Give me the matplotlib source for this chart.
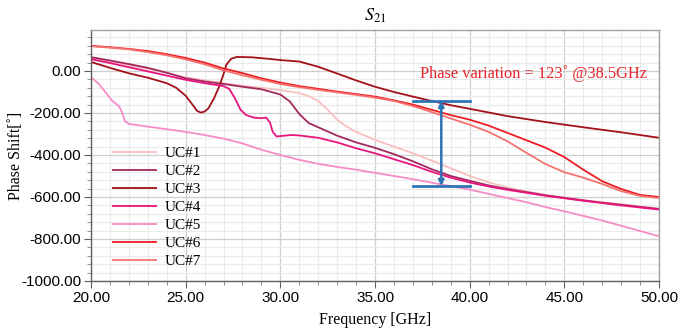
import matplotlib
matplotlib.use("Agg")
import matplotlib.pyplot as plt
from matplotlib.ticker import MultipleLocator, FormatStrFormatter

plt.rcParams['mathtext.fontset'] = 'stix'

# ---------------- data ----------------
f1 = [20, 21, 22, 23, 24, 25, 26, 27, 28, 29, 30, 31, 31.5, 32, 32.5, 33, 33.5, 34, 35, 36, 37, 38, 39, 40,
      41, 42, 43, 44, 45, 46, 47, 48, 49, 50]
uc1 = [61, 45, 28, 10, -10, -30, -45, -58, -70, -80, -91, -105, -120, -143, -185, -232, -265, -290, -328, -360, -392, -427, -463, -500,
       -530, -555, -573, -590, -603, -615, -625, -635, -645, -655]

f2 = [20, 21, 22, 23, 24, 25, 26, 27, 28, 29, 30, 30.5, 31, 31.5, 32, 33, 34, 35, 36, 37, 38, 39, 40,
      41, 42, 43, 44, 45, 46, 47, 48, 49, 50]
uc2 = [66, 50, 33, 15, -8, -35, -50, -62, -75, -87, -112, -145, -205, -248, -268, -308, -340, -366, -396, -430, -468, -500, -523,
       -545, -562, -577, -592, -604, -616, -627, -637, -647, -657]

f3 = [20, 21, 22, 23, 24, 24.5, 25, 25.4, 25.6, 25.8, 26.0, 26.2, 26.5, 26.8, 27.0, 27.15, 27.4, 27.7, 28.5, 29.5, 30,
      31, 32, 33, 34, 35, 36, 37, 38, 39, 40, 42, 44, 46, 48, 50]
uc3 = [43, 15, -11, -32, -58, -80, -118, -165, -190, -198, -193, -178, -130, -67, -15, 30, 58, 67, 65, 57, 52,
       45, 20, -12, -45, -75, -100, -122, -143, -163, -180, -215, -243, -268, -292, -318]

f4 = [20, 21, 22, 23, 24, 25, 26, 26.5, 27, 27.3, 27.6, 27.9, 28.2, 28.6, 29.0, 29.25, 29.45, 29.6, 29.8, 30.2, 30.6, 31,
      32, 33, 34, 35, 36, 37, 38, 39, 40, 41, 42, 43, 44, 45, 46, 47, 48, 49, 50]
uc4 = [56, 38, 18, -2, -22, -42, -58, -65, -72, -85, -130, -185, -210, -222, -225, -222, -245, -290, -312, -308, -305, -307,
       -318, -340, -368, -392, -420, -448, -480, -508, -531, -550, -566, -580, -594, -606, -618, -629, -640, -650, -660]

f5 = [20, 20.4, 20.8, 21.1, 21.3, 21.5, 21.65, 21.8, 22.0, 23, 24, 25, 26, 27, 28, 29, 30, 31, 32, 33, 34, 35,
      36, 37, 38, 39, 40, 41, 42, 43, 44, 45, 46, 47, 48, 49, 50]
uc5 = [-30, -60, -105, -140, -155, -170, -200, -240, -252, -265, -277, -290, -305, -322, -345, -375, -400, -423, -442, -457, -470, -485,
       -500, -515, -532, -548, -565, -585, -605, -625, -648, -668, -690, -712, -737, -762, -787]

f6 = [20, 21, 22, 23, 24, 25, 26, 27, 28, 29, 30, 31, 32, 33, 34, 35, 36, 37, 38, 39, 40,
      41, 42, 43, 44, 45, 46, 47, 48, 49, 50]
uc6 = [120, 113, 105, 95, 80, 62, 40, 12, -10, -35, -55, -72, -85, -98, -110, -122, -140, -160, -185, -210, -232,
       -260, -295, -330, -365, -410, -470, -525, -562, -590, -600]

f7 = [20, 21, 22, 23, 24, 25, 26, 27, 28, 29, 30, 31, 32, 33, 34, 35, 36, 37, 38, 39, 40,
      41, 42, 43, 44, 45, 46, 47, 48, 49, 50]
uc7 = [118, 111, 103, 90, 75, 55, 32, 3, -20, -42, -62, -77, -90, -102, -114, -127, -143, -167, -196, -226, -256,
       -290, -335, -390, -443, -482, -508, -538, -572, -595, -605]

labels = ["UC#1", "UC#2", "UC#3", "UC#4", "UC#5", "UC#6", "UC#7"]
colors = ["#F8BFBF", "#A2295E", "#A3101A", "#E8157E", "#F78BC6", "#EE1C25", "#F4736F"]

bar_f = [37.0, 40.0]
bar_top = -142
bar_bot = -548
arrow_f = 38.5

xticks = [20, 25, 30, 35, 40, 45, 50]
yticks = [0, -200, -400, -600, -800, -1000]

# ---------------- figure ----------------
fig = plt.figure(figsize=(6.93, 3.30), dpi=100)
ax = fig.add_axes([0.1313, 0.1485, 0.8197, 0.7605])

series = [(f1, uc1), (f2, uc2), (f3, uc3), (f4, uc4), (f5, uc5), (f6, uc6), (f7, uc7)]
for (fx, vy), lab, c in zip(series, labels, colors):
    ax.plot(fx, vy, color=c, lw=1.3, label=lab, solid_capstyle='butt')

ax.set_xlim(20, 50)
ax.set_ylim(-1000, 195)
ax.set_xticks(xticks)
ax.set_yticks(yticks)
ax.xaxis.set_minor_locator(MultipleLocator(1))
ax.yaxis.set_minor_locator(MultipleLocator(40))
ax.xaxis.set_major_formatter(FormatStrFormatter('%.2f'))
ax.yaxis.set_major_formatter(FormatStrFormatter('%.2f'))

ax.grid(which='major', color='#CFCFCF', lw=0.9)
ax.grid(which='minor', color='#EBEBEB', lw=0.8)
ax.set_axisbelow(True)

for s in ax.spines.values():
    s.set_color('#A0A0A0')
    s.set_linewidth(1.0)
ax.spines['left'].set_color('#606060')
ax.spines['bottom'].set_color('#606060')

ax.tick_params(which='major', direction='out', length=5, width=0.8, color='#606060',
               labelsize=11, pad=2)
ax.tick_params(which='minor', direction='out', length=3, width=0.6, color='#808080')
for t in ax.get_xticklabels() + ax.get_yticklabels():
    t.set_fontfamily('Liberation Sans')

ax.set_xlabel('Frequency [GHz]', family='Liberation Serif', fontsize=11.5, labelpad=5)
ax.set_ylabel('Phase Shift[˚]', family='Liberation Serif', fontsize=11.5)
ax.yaxis.set_label_coords(-0.118, 0.5)
ax.set_title(r'$S_{21}$', fontsize=13, pad=7)

leg = ax.legend(loc='lower left', bbox_to_anchor=(0.02, 0.015), frameon=False,
                prop={'family': 'Liberation Serif', 'size': 11},
                handlelength=3.0, handletextpad=0.5, labelspacing=0.28, borderaxespad=0.2)

# annotation
ann_c = '#2E74B5'
ax.plot(bar_f, [bar_top, bar_top], color=ann_c, lw=2)
ax.plot(bar_f, [bar_bot, bar_bot], color=ann_c, lw=2)
ax.annotate('', xy=(arrow_f, bar_top), xytext=(arrow_f, bar_bot),
            arrowprops=dict(arrowstyle='<|-|>', color=ann_c, lw=1.8,
                            mutation_scale=8, shrinkA=0, shrinkB=0))
ax.text(43.35, -14, 'Phase variation = 123˚ @38.5GHz', color='#E8232A',
        family='Liberation Serif', fontsize=11.8, ha='center', va='center')

fig.savefig('out.png', dpi=100)
